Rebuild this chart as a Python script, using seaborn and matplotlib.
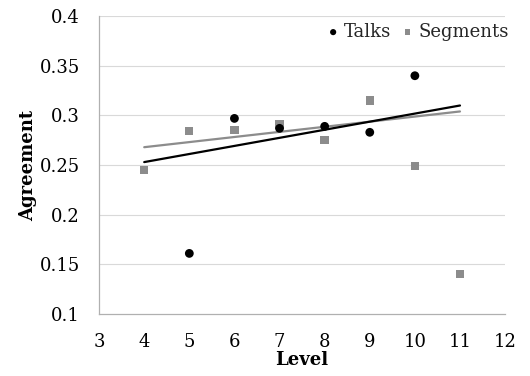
import matplotlib
matplotlib.use("Agg")
import matplotlib.pyplot as plt
import seaborn as sns
import pandas as pd

# Data
talks_level = [5, 6, 7, 8, 9, 10]
talks_agree = [0.161, 0.297, 0.287, 0.289, 0.283, 0.340]
seg_level = [4, 5, 6, 7, 8, 9, 10, 11]
seg_agree = [0.245, 0.284, 0.285, 0.291, 0.275, 0.315, 0.249, 0.140]
# Trendline endpoints (as drawn in the chart)
trend_level = [4, 11]
talks_trend = [0.253, 0.310]
seg_trend = [0.268, 0.304]

x_ticks = [3, 4, 5, 6, 7, 8, 9, 10, 11, 12]
y_ticks = [0.1, 0.15, 0.2, 0.25, 0.3, 0.35, 0.4]
y_tick_labels = ["0.1", "0.15", "0.2", "0.25", "0.3", "0.35", "0.4"]

sns.set_theme(style="white")
plt.rcParams['font.family'] = ['DejaVu Serif']

fig = plt.figure(figsize=(5.3, 3.76), dpi=100)
ax = fig.add_axes([0.187, 0.165, 0.766, 0.792])

for y in y_ticks[1:]:
    ax.axhline(y, color="#d9d9d9", lw=0.8, zorder=0)

tdf = pd.DataFrame({"Level": talks_level, "Agreement": talks_agree})
sdf = pd.DataFrame({"Level": seg_level, "Agreement": seg_agree})

sns.lineplot(x=trend_level, y=seg_trend, ax=ax, color="#8c8c8c", lw=1.6, zorder=2)
sns.lineplot(x=trend_level, y=talks_trend, ax=ax, color="black", lw=1.6, zorder=2)
sns.scatterplot(data=sdf, x="Level", y="Agreement", ax=ax, marker="s", s=36,
                color="#8c8c8c", edgecolor="none", zorder=3, label="Segments")
sns.scatterplot(data=tdf, x="Level", y="Agreement", ax=ax, marker="o", s=40,
                color="black", edgecolor="none", zorder=4, label="Talks")

ax.set_xlim(3, 12)
ax.set_ylim(0.1, 0.4)
ax.set_xticks(x_ticks)
ax.set_yticks(y_ticks)
ax.set_yticklabels(y_tick_labels)
ax.tick_params(axis="both", labelsize=13, length=0, labelcolor="black")
ax.tick_params(axis="y", pad=14)
ax.tick_params(axis="x", pad=14)

for s in ["top", "right"]:
    ax.spines[s].set_visible(False)
for s in ["left", "bottom"]:
    ax.spines[s].set_color("#b0b0b0")
    ax.spines[s].set_linewidth(0.9)

ax.set_xlabel("Level", fontsize=13, fontweight="bold", labelpad=0, color="black")
ax.set_ylabel("Agreement", fontsize=13, fontweight="bold", labelpad=2, color="black")

handles, labels = ax.get_legend_handles_labels()
order = [labels.index("Talks"), labels.index("Segments")]
ax.legend([handles[i] for i in order], [labels[i] for i in order],
          loc="upper right", bbox_to_anchor=(1.04, 1.02), ncol=2, frameon=False,
          fontsize=13, handletextpad=0.0, columnspacing=0.3, markerscale=0.7,
          borderaxespad=0.3, handlelength=1.2)

fig.savefig("out.png", dpi=100)
